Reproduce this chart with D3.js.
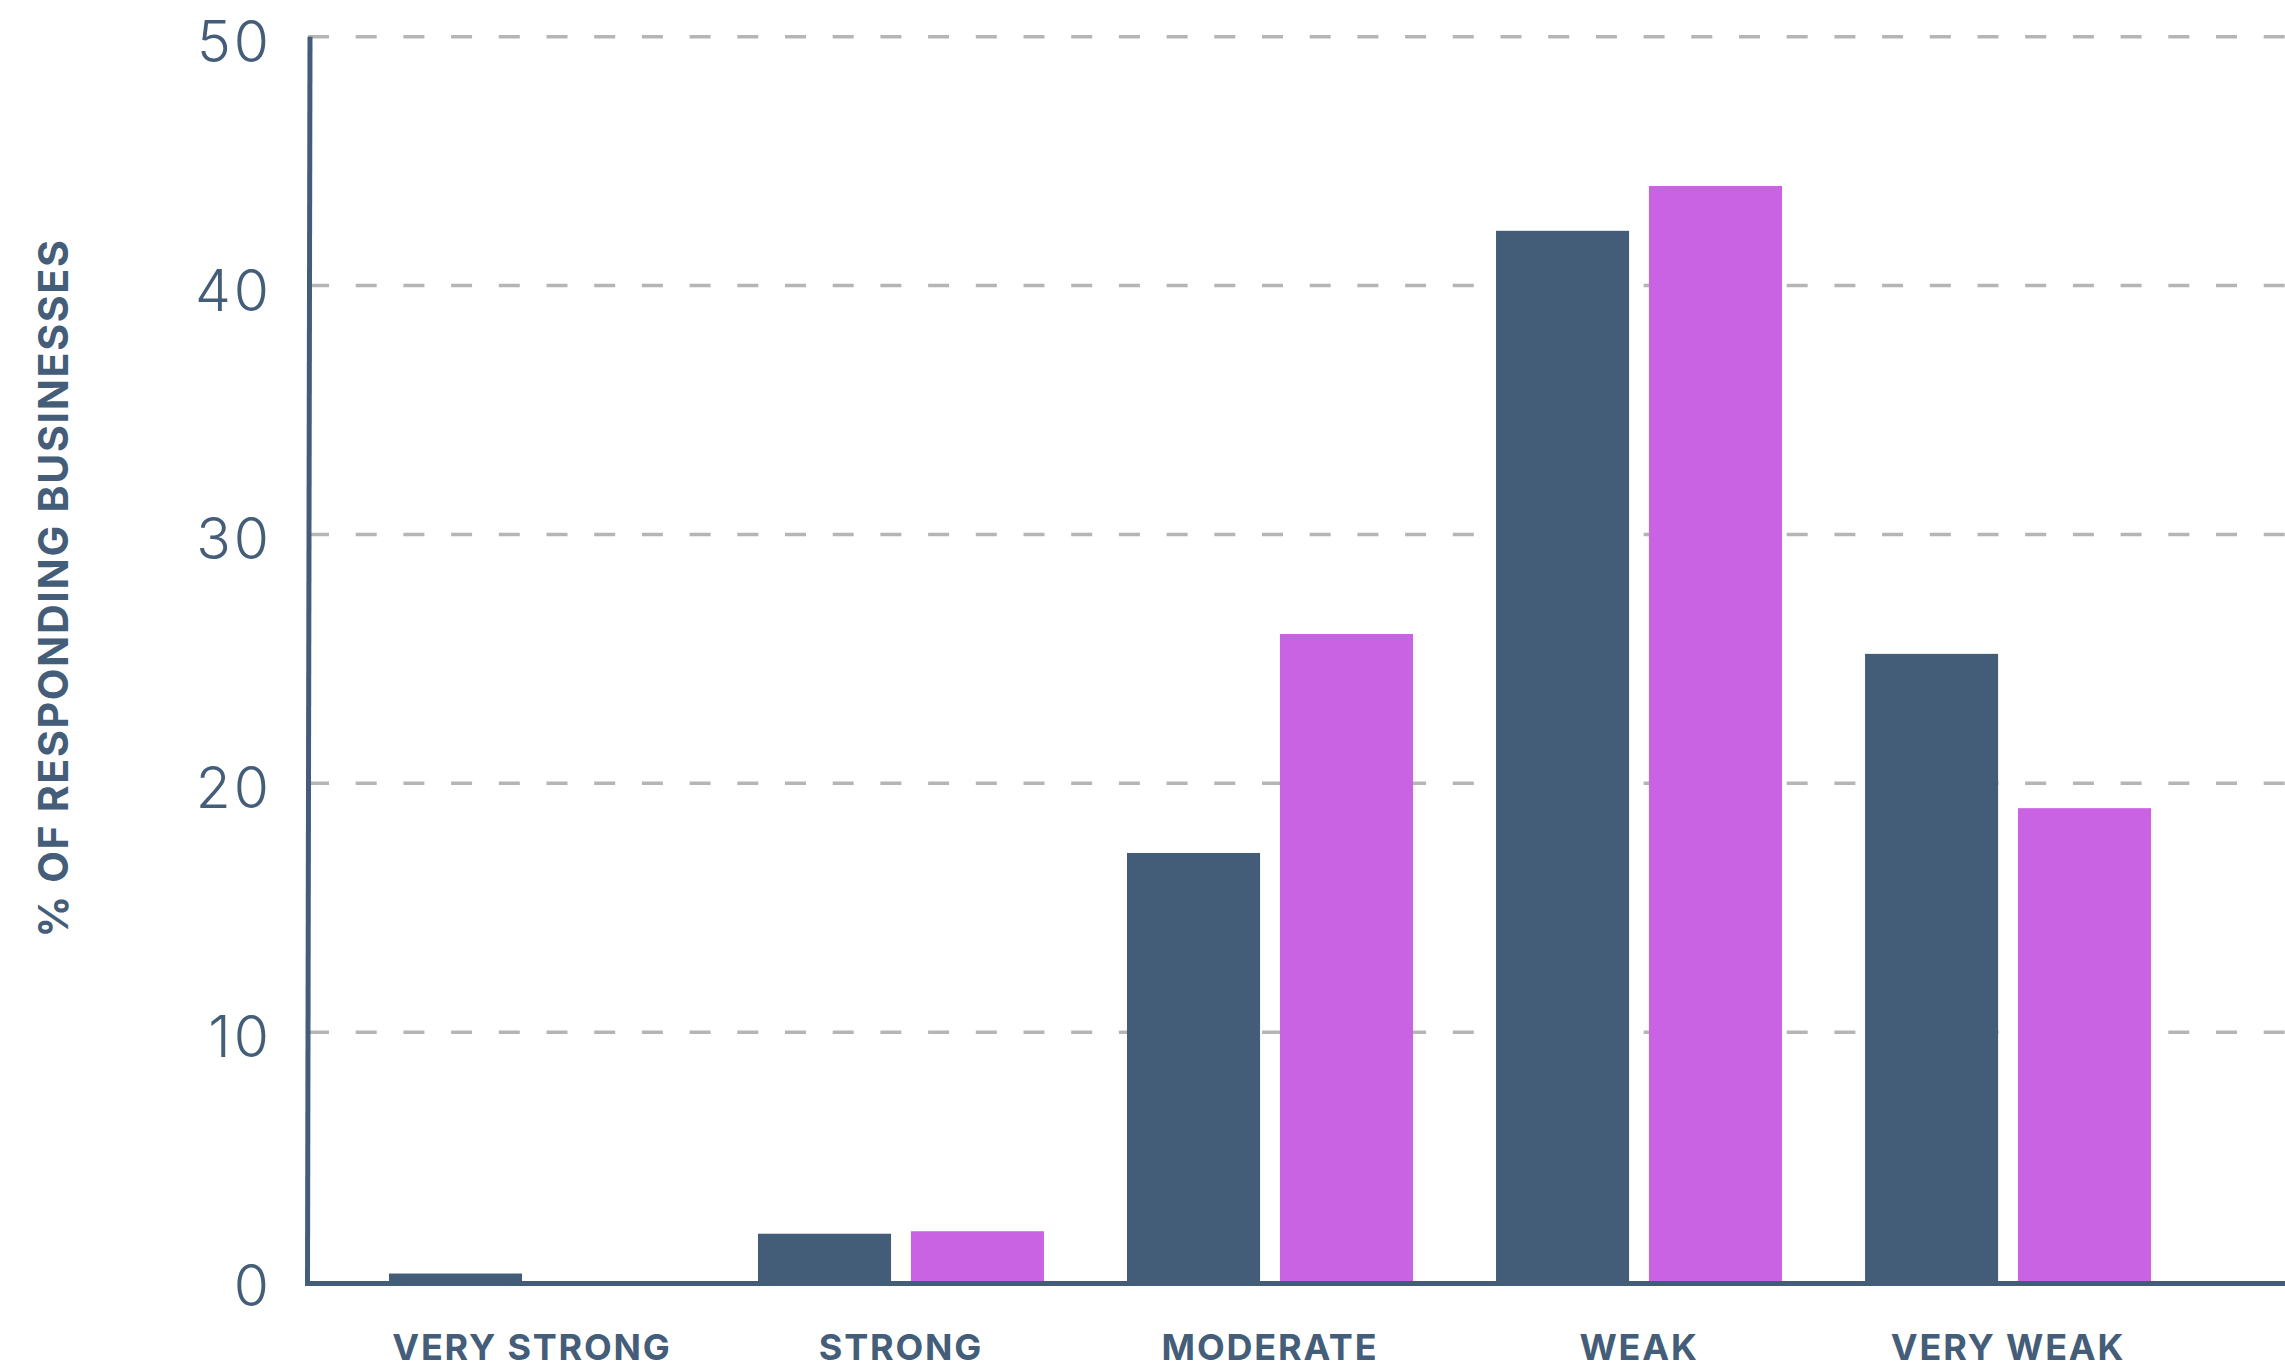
<!DOCTYPE html>
<html>
<head>
<meta charset="utf-8">
<script src="https://cdn.jsdelivr.net/npm/d3@7"></script>
<style>
  html, body { margin: 0; padding: 0; background: #ffffff; }
  svg { display: block; }
</style>
</head>
<body>
<svg id="chart" width="2285" height="1369"></svg>
<script>
// ---- Data ----
const categories = ["VERY STRONG", "STRONG", "MODERATE", "WEAK", "VERY WEAK"];
const seriesNames = ["Series A", "Series B"];
const seriesA = [0.3, 1.9, 17.2, 42.2, 25.2];
const seriesB = [0.0, 2.0, 26.0, 44.0, 19.0];
const yTicks = [0, 10, 20, 30, 40, 50];
const yTitle = "% OF RESPONDING BUSINESSES";

// ---- Styling ----
const colors = { "Series A": "#435c78", "Series B": "#ca63e3" };
const textColor = "#445d78";
const axisColor = "#435c78";
const gridColor = "#b5b5b5";

const W = 2285, H = 1369;
const svg = d3.select("#chart");

const y = d3.scaleLinear().domain([0, 50]).range([1281, 36.7]);
const x = d3.scaleBand().domain(categories).range([310, 2230])
  .paddingInner(0.225).paddingOuter(0.214);
const xSub = d3.scaleBand().domain(seriesNames).range([0, x.bandwidth()])
  .paddingInner(0.13).paddingOuter(0);

const rows = categories.map((c, i) => ({ cat: c, values: [
  { key: "Series A", v: seriesA[i] },
  { key: "Series B", v: seriesB[i] }
]}));

// Gridlines
svg.append("g").selectAll("line").data(yTicks.filter(t => t > 0)).join("line")
  .attr("x1", 308).attr("x2", W)
  .attr("y1", d => y(d)).attr("y2", d => y(d))
  .attr("stroke", gridColor).attr("stroke-width", 3.5)
  .attr("stroke-dasharray", "21,26.7");

// Bars
const groups = svg.append("g").selectAll("g").data(rows).join("g")
  .attr("transform", d => `translate(${x(d.cat)},0)`);
groups.selectAll("rect").data(d => d.values).join("rect")
  .attr("x", d => xSub(d.key))
  .attr("width", xSub.bandwidth())
  .attr("y", d => y(d.v))
  .attr("height", d => y(0) - y(d.v))
  .attr("fill", d => colors[d.key]);

// Y axis tick labels
svg.append("g").selectAll("text").data(yTicks).join("text")
  .attr("x", 272).attr("y", d => y(d) + 25)
  .attr("text-anchor", "end")
  .attr("font-family", "Inter, Lato, 'Open Sans', sans-serif")
  .attr("font-weight", 300)
  .attr("font-size", 57)
  .attr("letter-spacing", 3)
  .attr("fill", textColor)
  .text(d => d);

// Axis lines
svg.append("line")
  .attr("x1", 310).attr("y1", y(50)).attr("x2", 307.5).attr("y2", y(0) + 5)
  .attr("stroke", axisColor).attr("stroke-width", 5);
svg.append("line")
  .attr("x1", 305).attr("x2", W)
  .attr("y1", y(0) + 2.5).attr("y2", y(0) + 2.5)
  .attr("stroke", axisColor).attr("stroke-width", 5);

// Category labels
svg.append("g").selectAll("text").data(categories).join("text")
  .attr("x", d => x(d) + x.bandwidth() / 2)
  .attr("y", 1360)
  .attr("text-anchor", "middle")
  .attr("font-family", "Inter, Lato, 'Open Sans', sans-serif")
  .attr("font-weight", 700)
  .attr("font-size", 36)
  .attr("letter-spacing", 1.8)
  .attr("fill", textColor)
  .text(d => d);

// Y title
svg.append("text")
  .attr("transform", "translate(68,588) rotate(-90)")
  .attr("text-anchor", "middle")
  .attr("font-family", "Inter, Lato, 'Open Sans', sans-serif")
  .attr("font-weight", 700)
  .attr("font-size", 41)
  .attr("letter-spacing", 1.7)
  .attr("fill", textColor)
  .text(yTitle);
</script>
</body>
</html>
